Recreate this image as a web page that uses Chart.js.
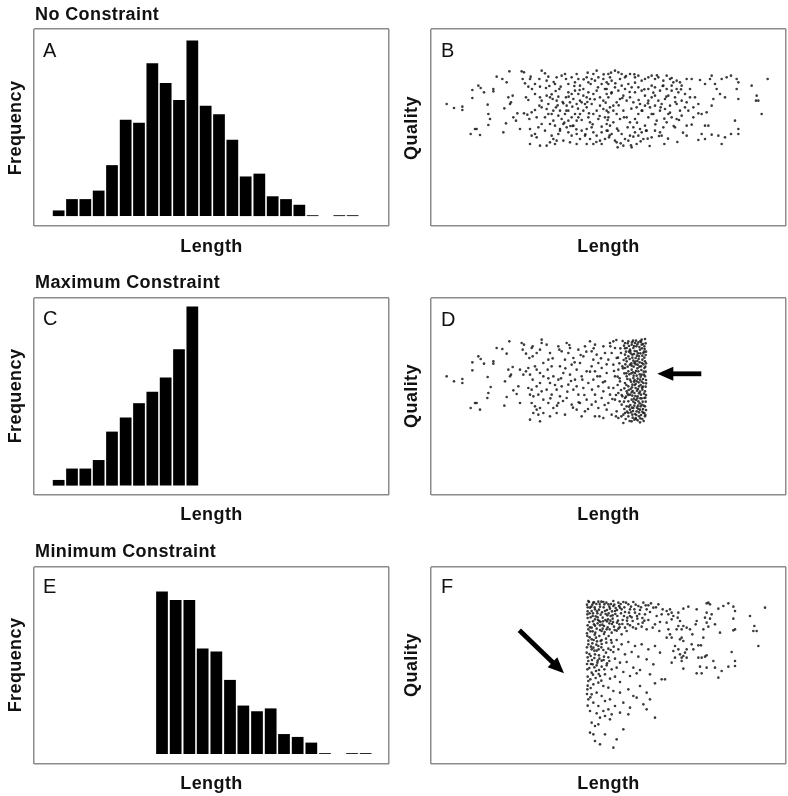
<!DOCTYPE html>
<html><head><meta charset="utf-8">
<script src="https://cdn.jsdelivr.net/npm/chart.js@4/dist/chart.umd.min.js"></script>
<style>
body{margin:0;background:#fff;width:788px;height:796px;position:relative;overflow:hidden}
canvas{position:absolute}
svg{position:absolute;left:0;top:0}
</style></head>
<body>
<canvas id="cA" width="359" height="201" style="left:32px;top:27px"></canvas>
<canvas id="cB" width="359" height="201" style="left:429px;top:27px"></canvas>
<canvas id="cC" width="359" height="201" style="left:32px;top:296px"></canvas>
<canvas id="cD" width="359" height="201" style="left:429px;top:296px"></canvas>
<canvas id="cE" width="359" height="201" style="left:32px;top:565px"></canvas>
<canvas id="cF" width="359" height="201" style="left:429px;top:565px"></canvas>
<svg width="788" height="796" font-family="'Liberation Sans', Arial, Helvetica, sans-serif">
  <g font-weight="bold" font-size="18" letter-spacing="0.4" fill="#111">
    <text x="35" y="20">No Constraint</text>
    <text x="35" y="288">Maximum Constraint</text>
    <text x="35" y="557">Minimum Constraint</text>
    <text x="211.5" y="252" text-anchor="middle">Length</text>
    <text x="608.5" y="252" text-anchor="middle">Length</text>
    <text x="211.5" y="520" text-anchor="middle">Length</text>
    <text x="608.5" y="520" text-anchor="middle">Length</text>
    <text x="211.5" y="789" text-anchor="middle">Length</text>
    <text x="608.5" y="789" text-anchor="middle">Length</text>
    <text transform="translate(20.5,128) rotate(-90)" text-anchor="middle">Frequency</text>
    <text transform="translate(20.5,396) rotate(-90)" text-anchor="middle">Frequency</text>
    <text transform="translate(20.5,665) rotate(-90)" text-anchor="middle">Frequency</text>
    <text transform="translate(416.5,128) rotate(-90)" text-anchor="middle">Quality</text>
    <text transform="translate(416.5,396) rotate(-90)" text-anchor="middle">Quality</text>
    <text transform="translate(416.5,665) rotate(-90)" text-anchor="middle">Quality</text>
  </g>
  <g font-size="20" fill="#111">
    <text x="43" y="57">A</text>
    <text x="441" y="57">B</text>
    <text x="43" y="325">C</text>
    <text x="441" y="326">D</text>
    <text x="43" y="593">E</text>
    <text x="441" y="593">F</text>
  </g>
  <g transform="translate(657.3,373.8) rotate(180)" fill="#000">
    <polygon points="0,0 -16,-7 -16,7"/>
    <rect x="-44" y="-2.4" width="30" height="4.8"/>
  </g>
  <g transform="translate(564,673.3) rotate(43.9)" fill="#000">
    <polygon points="0,0 -16,-7 -16,7"/>
    <rect x="-62" y="-2.4" width="48" height="4.8"/>
  </g>
</svg>
<script>
// ---- histogram data (bin centres in length units, counts) ----
const binCentersAC = [74,114,154,194,234,275,315,355,395,435,475,515,555,595,635,676,716,756,796,836,876,916,956];
const countsA = [2,6,6,9,18,34,33,54,47,41,62,39,36,27,14,15,7,6,4,0.3,0,0.3,0.3];
const countsC = [2,6,6,9,19,24,29,33,38,48,63];
const binCentersE = [384,425,466,506,547,588,628,669,710,750,791,832,873,913,954,995];
const countsE = [57,54,54,37,36,26,17,15,16,7,6,4,0.3,0,0.3,0.3];

// ---- scatter data [length, quality] ----
const scatterB = [
[47,366],[69,354],[94,358],[94,348],[124,408],[124,384],[142,421],[149,414],[159,401],[187,411],[187,404],[197,448],[214,441],[227,431],[235,464],[170,364],[172,336],[177,321],[172,303],[132,291],[137,291],[119,276],[147,273],[217,281],[225,308],[232,386],[245,391],[240,371],[237,366],[220,353],[247,326],[255,316],[259,338],[267,291],[272,464],[279,461],[275,441],[282,428],[297,441],[299,448],[292,418],[303,411],[312,426],[327,418],[325,441],[332,466],[342,458],[347,436],[352,448],[312,396],[285,386],[292,378],[327,386],[332,376],[347,391],[345,414],[357,386],[365,381],[279,338],[289,334],[295,321],[302,341],[312,348],[317,326],[325,361],[332,356],[347,351],[352,366],[367,346],[375,356],[377,376],[382,388],[385,411],[372,426],[377,446],[392,451],[402,456],[405,441],[412,426],[422,446],[432,431],[437,456],[442,441],[447,421],[457,411],[467,446],[472,431],[482,441],[487,456],[492,436],[497,466],[502,446],[512,426],[517,441],[527,431],[532,456],
[297,291],[302,271],[312,276],[317,266],[297,246],[327,241],[347,241],[357,251],[367,261],[372,246],[382,276],[387,291],[397,306],[392,321],[402,336],[412,346],[407,361],[417,371],[427,381],[437,366],[447,376],[457,391],[467,386],[477,381],[482,366],[487,396],[497,406],[507,386],[517,376],[527,396],[522,411],[407,296],[412,281],[422,271],[427,301],[437,316],[442,326],[447,336],[457,346],[467,356],[472,326],[477,311],[482,296],[487,336],[497,346],[502,321],[507,361],[517,351],[522,326],[527,306],[532,341],[437,276],[447,261],[452,286],[462,271],[467,291],[477,261],[487,281],[497,271],[507,256],[512,281],[522,261],[527,286],[512,246],[487,246],[467,246],[437,246],[417,251],[397,256],[377,256],[362,271],[342,286],[332,306],[322,296],[357,306],[367,316],[382,331],[387,346],[397,368],[405,386],[412,401],[422,396],[432,406],[442,396],[452,371],[462,366],[472,401],[422,326],[432,336],[412,316],[342,326],[352,336],[362,336],[372,301],[387,286],
[552,466],[562,461],[572,456],[567,441],[582,446],[597,456],[612,446],[622,451],[632,436],[642,441],[652,446],[662,451],[672,441],[682,446],[697,436],[707,451],[717,441],[727,431],[737,436],[747,431],[752,421],[767,441],[782,441],[807,438],[822,426],[837,441],[842,451],[852,426],[857,411],[872,441],[887,446],[900,451],[917,441],[922,431],[962,421],[1010,441],[977,391],[982,376],[992,336],[917,411],[922,381],[882,386],[867,396],[847,381],[842,361],[827,341],[812,336],[802,338],[777,386],[772,346],[762,356],[752,331],[767,301],[782,304],[787,326],[822,301],[832,301],[812,276],[822,261],[802,258],[842,274],[862,271],[872,246],[882,266],[900,276],[912,316],[922,291],[922,276],[767,271],[737,321],[747,346],[722,326],[732,296],[712,336],[707,311],[697,296],[687,281],[692,271],[672,286],[662,266],[677,316],[667,336],[652,326],[642,301],[647,286],[632,281],[622,271],[637,261],[617,246],[602,236],[592,256],[582,261],[572,276],[562,286],[552,256],[542,276],[537,301],[547,311],[532,326],[557,336],[567,321],[577,346],[587,326],[597,311],[607,296],[612,321],[622,336],[632,346],[642,361],[652,376],[662,386],[672,391],[682,376],[692,366],[702,381],[712,391],[722,406],[732,386],[742,401],[752,376],[737,366],[717,361],[702,351],[687,346],[672,361],[657,356],[627,366],[617,356],[607,371],[597,386],[587,376],[577,391],[567,381],[557,371],[547,361],[537,356],[532,386],[542,401],[552,416],[562,406],[572,421],[582,411],[592,426],[602,416],[612,401],[622,416],[632,406],[642,391],[652,411],[662,421],[672,416],[687,406],[697,421],[707,411],[722,421],[737,411],[762,396],[777,411],[792,386],[802,366],[787,356],[767,371],[532,426],[537,446],[542,436],[527,411],[527,346],[530,286],[534,266],[557,251],[577,241],[597,271],[612,281],[627,291],[975,376],
[355,420],[362,395],[368,432],[374,405],[380,362],[389,418],[395,372],[400,310],[406,346],[413,388],[418,300],[424,358],[430,420],[436,290],[441,352],[446,408],[452,318],[458,440],[463,275],[469,372],[474,338],[479,426],[485,305],[491,380],[496,252],[501,416],[506,330],[512,298],[518,455],[524,370],[530,318],[536,272],[541,398],[547,346],[553,428],[558,292],[563,362],[569,248],[574,384],[579,326],[585,450],[590,296],[596,402],[601,352],[607,268],[612,430],[618,310],[623,378],[629,254],[634,346],[640,410],[645,286],[651,368],[656,240],[662,336],[667,400],[673,305],[678,452],[684,270],[689,356],[695,420],[700,322],[706,388],[711,262],[717,340],[722,444],[728,300],[733,372],[739,252],[744,318],[750,410],[756,280],[610,455],[540,460],[470,460],[425,300],[600,242],[650,262],[700,246],[560,236]
];

const scatterD = [
[47,356],[69,341],[94,348],[94,336],[124,398],[124,374],[142,416],[149,408],[159,394],[187,401],[187,394],[197,441],[214,438],[227,424],[235,461],[170,354],[179,324],[172,306],[169,291],[132,276],[137,276],[119,261],[147,256],[220,268],[227,294],[232,376],[245,384],[240,361],[237,356],[222,341],[247,314],[257,303],[262,326],[267,276],[272,456],[279,451],[275,436],[285,424],[302,441],[305,446],[295,411],[305,416],[317,426],[327,436],[332,456],[332,466],[292,381],[285,371],[297,361],[312,386],[317,376],[327,366],[305,346],[292,321],[302,316],[317,326],[327,336],[297,301],[307,296],[322,301],[332,311],[302,276],[312,266],[317,256],[327,261],[307,246],[322,241],[297,226],[327,221],[337,246],[337,286],[337,356],[337,396],[267,376],[277,361],
[347,451],[357,426],[352,406],[350,376],[362,386],[367,356],[357,336],[347,316],[362,301],[352,276],[367,261],[357,236],[377,246],[382,276],[387,296],[377,316],[392,326],[382,346],[397,366],[387,386],[402,406],[392,431],[382,446],[407,456],[417,441],[412,426],[427,411],[422,391],[437,376],[417,361],[432,346],[412,331],[427,316],[442,301],[407,291],[422,271],[437,256],[402,241],[452,236],[462,251],[447,276],[467,286],[457,321],[472,336],[452,356],[467,371],[482,386],[447,396],[457,416],[442,436],[462,446],[477,461],[492,451],[482,431],[497,421],[487,406],[502,396],[492,371],[512,381],[507,356],[522,341],[487,346],[502,326],[517,311],[492,301],[512,291],[482,271],[502,261],[527,256],[492,236],[517,231],[532,276],[537,301],[527,366],[532,406],[522,426],[517,446],[537,456],[547,461],[552,441],[542,426],[557,411],[547,391],[562,376],[552,356],[567,341],[547,321],[562,306],[552,286],[572,271],[557,251],[577,241],[562,231],[542,241],
[582,456],[592,461],[602,451],[612,456],[622,458],[632,451],[640,446],[587,441],[597,436],[607,441],[617,431],[627,436],[637,426],[582,421],[592,416],[604,421],[614,411],[624,416],[634,406],[642,401],[587,401],[597,391],[610,396],[620,391],[630,386],[640,381],[582,381],[592,371],[602,376],[612,366],[622,371],[632,361],[642,356],[587,356],[597,346],[607,351],[617,341],[627,346],[637,336],[582,336],[592,326],[604,331],[614,321],[624,326],[634,316],[642,311],[587,311],[597,301],[610,306],[620,296],[630,301],[640,291],[582,291],[592,281],[602,286],[612,276],[622,281],[632,271],[642,266],[587,266],[597,256],[607,261],[617,251],[627,256],[637,246],[582,246],[592,236],[604,241],[614,231],[624,236],[634,228],[642,236],[577,216],[602,221],[627,218],[574,386],[574,296],[570,426],[642,468],[632,466],
[579,448],[585,430],[594,447],[599,425],[606,463],[611,432],[616,446],[621,425],[628,462],[633,440],[639,430],[644,455],[644,420],[645,395],[644,370],[645,345],[644,325],[645,300],[644,280],[645,255],[643,240],[578,405],[583,392],[590,385],[596,408],[601,395],[608,385],[613,400],[619,380],[626,398],[631,375],[637,392],[580,365],[589,348],[595,362],[600,340],[606,368],[611,345],[617,358],[623,338],[629,355],[636,348],[580,320],[586,330],[593,315],[599,318],[605,312],[611,330],[618,313],[624,305],[629,330],[636,325],[579,280],[585,295],[592,300],[598,270],[604,298],[609,289],[615,285],[621,268],[628,290],[635,280],[580,258],[588,250],[594,265],[600,248],[606,252],[612,243],[618,262],[624,248],[630,240],[636,258],[584,228],[596,222],[610,226],[620,224],[638,222],[560,355],[565,395],[570,315],[568,440],[556,465],[575,462],[566,281],[571,236],[555,300],[560,330],
[603,458],[609,447],[615,463],[619,452],[625,444],[630,459],[636,453],[641,438],[598,432],[604,412],[609,423],[618,418],[623,408],[628,425],[634,418],[640,412],[645,430],[602,388],[607,403],[614,392],[619,402],[625,385],[633,396],[638,370],[643,385],[601,365],[608,358],[615,372],[620,349],[626,362],[632,340],[639,361],[645,335],[603,323],[609,340],[614,333],[621,318],[627,310],[633,322],[639,304],[602,308],[607,280],[613,297],[619,290],[626,275],[632,290],[638,268],[643,292],[603,262],[610,268],[616,240],[622,258],[629,266],[634,250],[640,246],[605,232],[615,228],[628,230],[590,455],[594,430],[586,365],[589,305],[592,246],[582,440],[585,410],
[352,350],[358,290],[365,410],[372,330],[378,268],[385,436],[390,350],[396,282],[403,380],[409,310],[415,450],[420,342],[426,262],[431,398],[437,326],[443,278],[449,420],[454,346],[460,300],[466,430],[471,258],[477,370],[483,316],[488,440],[494,280],[499,356],[505,236],[510,410],[516,338],[521,270],[527,392],[533,322],[538,446],[544,288],[549,372],[555,236],[561,412],[566,350],[572,300],[576,380]
];

const scatterF = [
[472,489],[487,484],[502,487],[517,486],[532,479],[547,489],[562,484],[577,486],[592,479],[607,486],[622,474],[637,484],[652,476],[667,469],[682,479],[695,464],[477,469],[492,464],[507,472],[522,459],[537,466],[552,459],[567,469],[582,456],[597,464],[612,454],[627,462],[642,449],[657,456],[677,444],[692,449],[469,449],[485,444],[499,452],[515,439],[529,446],[545,436],[559,444],[575,432],[589,439],[605,429],[619,436],[635,424],[652,432],[672,419],[687,426],[475,426],[489,419],[505,429],[519,414],[535,422],[549,412],[565,419],[582,409],[597,416],[615,406],[632,412],[647,404],[665,409],[685,399],[472,404],[482,409],[497,406],[512,399],[527,404],[542,394],[557,400],[572,389],[507,416],[492,434],[482,459],[547,474],[597,444],[647,464],[587,399],[562,406],
[469,384],[482,374],[495,379],[509,369],[525,376],[542,364],[557,372],[572,359],[592,366],[612,354],[632,359],[652,344],[672,354],[687,334],[472,359],[487,349],[502,354],[517,342],[532,346],[547,336],[562,344],[582,329],[602,336],[622,322],[647,314],[667,299],[467,334],[479,324],[492,329],[505,316],[519,322],[535,309],[552,316],[567,304],[587,306],[607,289],[627,282],[657,269],[472,309],[485,299],[499,304],[512,292],[527,296],[542,284],[557,289],[577,276],[597,264],[617,272],[469,284],[482,274],[495,279],[507,264],[522,269],[537,256],[552,262],[567,246],[692,254],[672,242],
[472,249],[487,239],[502,244],[517,234],[532,229],[547,219],[567,214],[592,224],[607,204],[627,234],[647,214],[657,194],[637,179],[469,224],[482,209],[497,214],[512,204],[522,189],[537,194],[552,174],[577,184],[597,169],[617,199],[472,194],[487,184],[502,174],[517,159],[532,164],[542,149],[567,154],[592,149],[647,164],[672,139],[477,159],[497,152],[507,139],[522,144],[537,134],[482,124],[492,114],[502,119],[477,94],[487,89],[522,89],[577,104],[557,74],[547,49],[492,69],[507,59],
[707,459],[712,449],[717,464],[722,454],[722,434],[727,444],[707,424],[712,404],[717,389],[722,379],[707,379],[702,254],[742,454],[740,439],[747,429],[742,414],[737,404],[757,466],[772,472],[797,464],[827,482],[832,484],[837,479],[862,466],[877,474],[892,482],[907,472],[912,459],[827,454],[842,449],[822,439],[837,436],[827,424],[832,412],[797,429],[794,419],[767,409],[777,404],[757,414],[752,404],[817,404],[907,436],[912,404],[907,401],[867,394],[852,419],[957,444],[970,414],[967,399],[977,399],[982,354],[1002,469],[784,389],[752,379],[747,374],[757,369],[732,354],[742,344],[727,339],[782,359],[787,344],[802,356],[810,356],[817,379],[767,344],[762,334],[747,329],[757,324],[732,319],[752,319],[767,319],[722,304],[752,309],[802,319],[812,319],[822,322],[827,326],[847,309],[902,336],[912,309],[912,294],[892,292],[872,279],[852,289],[827,289],[807,292],[797,272],[812,272],[757,286],[862,259],
[468,478],[474,486],[481,472],[489,485],[496,480],[504,463],[511,487],[518,470],[526,484],[533,452],[540,480],[554,468],[569,480],[585,484],[600,472],[614,478],[630,470],[644,476],[660,482],[675,470],[470,458],[479,440],[486,452],[494,443],[501,432],[509,448],[516,428],[524,450],[531,434],[539,444],[546,426],[553,450],[561,430],[570,452],[579,444],[588,430],[602,440],[618,444],[634,438],[470,416],[478,398],[486,428],[493,394],[500,422],[507,402],[514,418],[521,396],[528,428],[536,404],[543,420],[551,402],[558,424],[566,410],[574,420],[590,420],[606,410],[622,420],[640,430],[468,392],[476,380],[484,362],[491,388],[498,368],[505,384],[512,360],[519,390],[526,364],[533,384],[540,372],[548,352],[468,350],[475,330],[482,344],[490,318],[497,340],[504,326],[511,350],[518,312],[525,334],[532,320],[539,342],[468,300],[475,288],[483,312],[490,290],[497,296],[504,282],[512,310],[520,284],[528,302],[470,262],[478,254],[486,268],[494,258],[503,270],[511,250],[470,235],[479,228],[468,210],[478,200],[470,175],
[470,470],[476,452],[484,478],[491,470],[498,458],[506,480],[513,455],[520,479],[528,462],[535,472],[543,458],[550,478],[558,462],[564,474],[572,464],[580,470],[594,454],[610,464],[625,450],[470,438],[477,410],[485,398],[492,415],[500,440],[508,426],[515,406],[523,432],[530,410],[538,430],[545,446],[472,370],[480,352],[488,372],[496,358],[503,344],[512,372],[470,320],[480,300],[490,340],[500,310]
];

// ---- drawing ----
function frameAxis(min, max) {
  return {
    type: 'linear', min: min, max: max, offset: false,
    ticks: { display: false },
    grid: { color: '#8c8c8c', lineWidth: 1.5, drawTicks: false, offset: false },
    border: { display: false },
    afterBuildTicks: function (s) { s.ticks = [{ value: min }, { value: max }]; }
  };
}
function baseOptions(ymin, ymax) {
  return {
    responsive: false, animation: false, devicePixelRatio: 1, events: [],
    layout: { padding: 2 },
    plugins: { legend: { display: false }, tooltip: { enabled: false }, title: { display: false } },
    scales: { x: frameAxis(0, 1065), y: frameAxis(ymin, ymax) }
  };
}
function histogram(id, centers, counts, ymin, ymax) {
  new Chart(document.getElementById(id), {
    type: 'bar',
    data: { datasets: [{
      data: centers.map(function (x, i) { return { x: x, y: counts[i] }; }),
      backgroundColor: '#000', borderWidth: 0,
      categoryPercentage: 1, barPercentage: 0.88
    }] },
    options: baseOptions(ymin, ymax)
  });
}
function scatter(id, pts) {
  new Chart(document.getElementById(id), {
    type: 'scatter',
    data: { datasets: [{
      data: pts.map(function (p) { return { x: p[0], y: p[1] }; }),
      pointRadius: 1.3, pointHoverRadius: 1.3, borderWidth: 0,
      backgroundColor: 'rgba(25,25,25,0.85)'
    }] },
    options: baseOptions(0, 591)
  });
}
histogram('cA', binCentersAC, countsA, -3.5, 66.1);
scatter('cB', scatterB);
histogram('cC', binCentersAC.slice(0, countsC.length), countsC, -3.3, 66);
scatter('cD', scatterD);
histogram('cE', binCentersE, countsE, -3.5, 65.6);
scatter('cF', scatterF);
</script>
</body></html>
